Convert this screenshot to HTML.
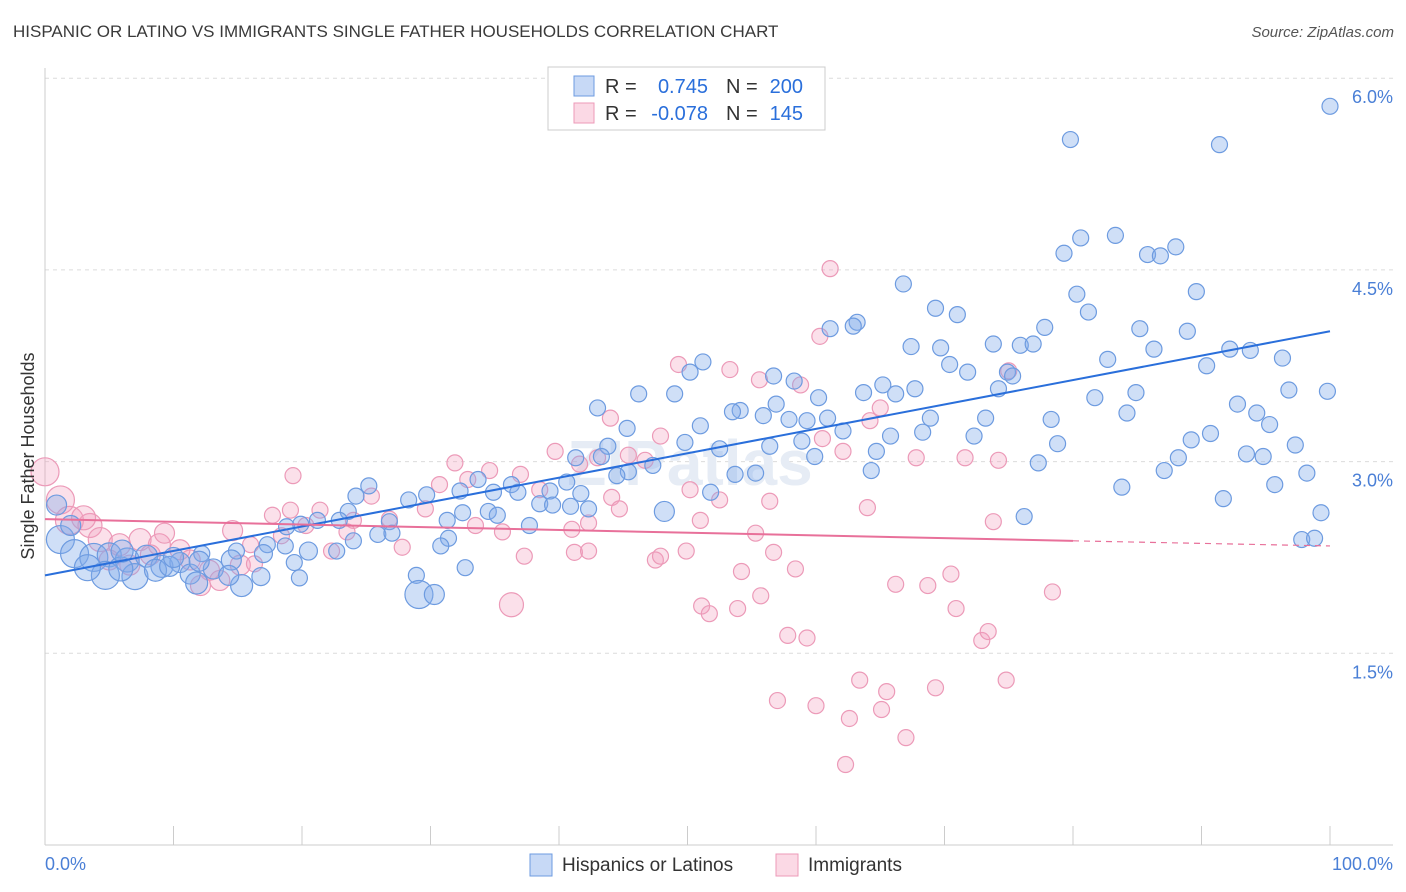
<!DOCTYPE html>
<html><head><meta charset="utf-8">
<style>
body{margin:0;background:#fff;font-family:"Liberation Sans",sans-serif;}
#wrap{position:relative;width:1406px;height:892px;overflow:hidden;}
.t{position:absolute;white-space:nowrap;}
</style></head>
<body>
<div id="wrap">
<div class="t" style="left:13px;top:22px;font-size:17px;color:#3a3a3a;">HISPANIC OR LATINO VS IMMIGRANTS SINGLE FATHER HOUSEHOLDS CORRELATION CHART</div>
<div class="t" style="right:12px;top:24px;font-size:15px;color:#555;font-style:italic;">Source: ZipAtlas.com</div>
<svg id="chart" width="1406" height="892" style="position:absolute;left:0;top:0"></svg>
</div>
<script>
const yTicks=[1.5,3.0,4.5,6.0];
const yTickLabels=["1.5%","3.0%","4.5%","6.0%"];
const xTickLabels=["0.0%","100.0%"];
const legendLabels=["Hispanics or Latinos","Immigrants"];
const blueR="0.745",blueN="200",pinkR="-0.078",pinkN="145";
const blueLine=[[0,2.11],[100,4.02]];
const pinkLine=[[0,2.55],[80,2.38],[100,2.34]];
const bluePts=[[100,5.78],[79.8,5.52],[91.4,5.48],[83.3,4.77],[80.6,4.75],[88,4.68],[79.3,4.63],[85.8,4.62],[86.8,4.61],[66.8,4.39],[80.3,4.31],[89.6,4.33],[69.3,4.2],[81.2,4.17],[71,4.15],[63.2,4.09],[61.1,4.04],[62.9,4.06],[77.8,4.05],[85.2,4.04],[88.9,4.02],[67.4,3.9],[73.8,3.92],[75.9,3.91],[76.9,3.92],[69.7,3.89],[86.3,3.88],[92.2,3.88],[93.8,3.87],[96.3,3.81],[82.7,3.8],[51.2,3.78],[70.4,3.76],[90.4,3.75],[50.2,3.7],[71.8,3.7],[74.9,3.7],[56.7,3.67],[75.3,3.67],[58.3,3.63],[65.2,3.6],[67.7,3.57],[74.2,3.57],[96.8,3.56],[99.8,3.55],[46.2,3.53],[49,3.53],[63.7,3.54],[66.2,3.53],[84.9,3.54],[60.2,3.5],[81.7,3.5],[56.9,3.45],[54.1,3.4],[92.8,3.45],[43,3.42],[84.2,3.38],[94.3,3.38],[55.9,3.36],[53.5,3.39],[59.3,3.32],[57.9,3.33],[60.9,3.34],[68.9,3.34],[78.3,3.33],[73.2,3.34],[95.3,3.29],[51,3.28],[45.3,3.26],[62.1,3.24],[68.3,3.23],[65.8,3.2],[72.3,3.2],[90.7,3.22],[89.2,3.17],[49.8,3.15],[43.8,3.12],[56.4,3.12],[58.9,3.16],[78.8,3.14],[97.3,3.13],[52.5,3.1],[64.7,3.08],[93.5,3.06],[94.8,3.04],[41.3,3.03],[43.3,3.04],[59.9,3.04],[88.2,3.03],[77.3,2.99],[47.3,2.97],[45.4,2.92],[64.3,2.93],[87.1,2.93],[98.2,2.91],[53.7,2.9],[55.3,2.91],[44.5,2.89],[40.6,2.84],[25.2,2.81],[33.7,2.86],[36.3,2.82],[83.8,2.8],[95.7,2.82],[51.8,2.76],[39.3,2.77],[41.7,2.75],[24.2,2.73],[29.7,2.74],[32.3,2.77],[34.9,2.76],[36.8,2.76],[28.3,2.7],[38.5,2.67],[39.5,2.66],[91.7,2.71],[40.9,2.65],[23.6,2.61],[48.2,2.61,10],[32.5,2.6],[34.5,2.61],[35.2,2.58],[42.3,2.63],[99.3,2.6],[76.2,2.57],[21.2,2.54],[31.3,2.54],[37.7,2.5],[26.8,2.53],[25.9,2.43],[22.9,2.54],[18.8,2.49],[19.9,2.51],[31.4,2.4],[97.8,2.39],[98.8,2.4],[17.3,2.35],[18.7,2.34],[14.9,2.3],[30.8,2.34],[22.7,2.3],[12.2,2.28],[1.2,2.39,14],[2.3,2.28,14],[3.8,2.25,14],[5,2.27,12],[6.4,2.23,12],[7.9,2.26,11],[9.1,2.18,11],[10.5,2.21,10],[4.7,2.11,14],[7,2.1,13],[8.6,2.15,11],[11.3,2.12,10],[13.1,2.16,10],[14.5,2.23,10],[16.8,2.1,9],[3.3,2.17,13],[5.9,2.16,12],[9.7,2.18,10],[19.4,2.21],[32.7,2.17],[28.9,2.11],[11.8,2.05,11],[15.3,2.03,11],[19.8,2.09],[29.1,1.96,14],[30.3,1.96,10],[14.3,2.11,10],[0.9,2.66,10],[2,2.5,10],[6,2.3,11],[12,2.22,10],[17,2.28,9],[20.5,2.3,9],[24,2.38],[27,2.44],[10,2.25,10]];
const pinkPts=[[0,2.92,14],[1.2,2.7,14],[1.9,2.54,14],[3.5,2.5,12],[4.3,2.39,12],[5.8,2.35,11],[7.4,2.39,11],[8.9,2.35,11],[10.5,2.31,10],[5,2.23,10],[6.6,2.19,10],[8.2,2.27,10],[11.3,2.23,10],[12.8,2.15,10],[13.6,2.07,10],[12.1,2.03,10],[15.2,2.19,10],[19.3,2.89],[17.7,2.58],[19.1,2.62],[21.4,2.62],[24,2.54],[25.4,2.73],[26.8,2.55],[29.6,2.63],[30.7,2.82],[31.9,2.99],[32.9,2.86],[34.6,2.93],[37,2.9],[38.5,2.78],[39.7,3.08],[41.6,2.98],[43,3.03],[44,3.34],[45.4,3.05],[46.7,3.01],[47.9,3.2],[49.3,3.76],[50.2,2.78],[53.3,3.72],[55.6,3.64],[58.8,3.6],[61.1,4.51],[60.3,3.98],[60.5,3.18],[62.1,3.08],[64.2,3.32],[65,3.42],[51,2.54],[52.5,2.7],[55.3,2.44],[56.4,2.69],[44.1,2.72],[44.7,2.63],[42.3,2.52],[41,2.47],[41.2,2.29],[42.3,2.3],[37.3,2.26],[36.3,1.88,12],[47.5,2.23],[47.9,2.26],[49.9,2.3],[54.2,2.14],[56.7,2.29],[58.4,2.16],[55.7,1.95],[53.9,1.85],[51.1,1.87],[51.7,1.81],[57.8,1.64],[59.3,1.62],[57,1.13],[60,1.09],[62.6,0.99],[62.3,0.63],[63.4,1.29],[65.1,1.06],[65.5,1.2],[67,0.84],[66.2,2.04],[68.7,2.03],[70.5,2.12],[70.9,1.85],[69.3,1.23],[72.9,1.6],[73.4,1.67],[74.8,1.29],[78.4,1.98],[73.8,2.53],[74.2,3.01],[71.6,3.03],[64,2.64],[75,3.71],[67.8,3.03],[22.3,2.3],[23.5,2.45],[27.8,2.33],[33.5,2.5],[35.6,2.45],[20.3,2.5],[18.4,2.42],[16.3,2.2],[14.6,2.46,10],[3,2.56,12],[9.3,2.44,10],[16,2.35]];
const svg=document.getElementById('chart');
const NS='http://www.w3.org/2000/svg';
const X=v=>45+v*12.85, Y=v=>845-v*127.8;
function mk(t,a,p){const e=document.createElementNS(NS,t);for(const k in a)e.setAttribute(k,a[k]);(p||svg).appendChild(e);return e;}
// grid
yTicks.forEach((v,i)=>{
 const g=mk('line',{x1:45,x2:1393,y1:Y(v),y2:Y(v),stroke:'#dcdcdc','stroke-dasharray':'4,4'});
 
 
 const t=mk('text',{x:1393,y:Y(v)+25,'text-anchor':'end','font-size':18,fill:'#4a7fd6'});
 
 
 t.textContent=yTickLabels[i];
});
const ax=mk('line',{x1:45,x2:45,y1:68,y2:845,stroke:'#ccc'});


const bx=mk('line',{x1:45,x2:1393,y1:845,y2:845,stroke:'#ccc'});


for(let i=0;i<=10;i++){const tk=mk('line',{x1:X(i*10),x2:X(i*10),y1:826,y2:845,stroke:'#ccc'});
 
 }
const wm=mk('text',{x:690,y:485,'text-anchor':'middle','font-size':64,'font-weight':'bold',fill:'#e6ecf5'});


wm.textContent='ZIPatlas';
function pts(arr,fill,stroke,name){arr.forEach(p=>{const c=mk('circle',{cx:X(p[0]),cy:Y(p[1]),r:p[2]||8,fill:fill,stroke:stroke,'stroke-width':1.2});
 
 });}
pts(pinkPts,'rgba(244,160,190,0.32)','#ec9ab8','immigrants-point');
pts(bluePts,'rgba(130,170,235,0.38)','#6d9be0','hispanic-point');
const bl=mk('line',{x1:X(blueLine[0][0]),y1:Y(blueLine[0][1]),x2:X(blueLine[1][0]),y2:Y(blueLine[1][1]),stroke:'#2a6fdb','stroke-width':2});


const pl=mk('line',{x1:X(pinkLine[0][0]),y1:Y(pinkLine[0][1]),x2:X(pinkLine[1][0]),y2:Y(pinkLine[1][1]),stroke:'#e8709a','stroke-width':2});


const pd=mk('line',{x1:X(pinkLine[1][0]),y1:Y(pinkLine[1][1]),x2:X(pinkLine[2][0]),y2:Y(pinkLine[2][1]),stroke:'#e8709a','stroke-width':1.2,'stroke-dasharray':'6,5'});


const yt=mk('text',{x:34,y:456,'text-anchor':'middle','font-size':18,fill:'#333',transform:'rotate(-90 34 456)'});


yt.textContent='Single Father Households';
const x0=mk('text',{x:45,y:870,'font-size':18,fill:'#4a7fd6'});


x0.textContent=xTickLabels[0];
const x1=mk('text',{x:1393,y:870,'text-anchor':'end','font-size':18,fill:'#4a7fd6'});


x1.textContent=xTickLabels[1];
// top legend
const lg=mk('g',{});


mk('rect',{x:548,y:67,width:277,height:63,fill:'#fff',stroke:'#ccc'},lg);
mk('rect',{x:574,y:76,width:20,height:20,fill:'rgba(130,170,235,0.45)',stroke:'#6d9be0'},lg);
mk('rect',{x:574,y:103,width:20,height:20,fill:'rgba(244,160,190,0.4)',stroke:'#ec9ab8'},lg);
function lt(x,y,s,c,a){const t=mk('text',{x:x,y:y,'font-size':20,fill:c,'text-anchor':a||'start'},lg);t.textContent=s;return t;}
lt(605,93,'R =','#333');lt(708,93,blueR,'#2a6fdb','end');lt(726,93,'N =','#333');lt(803,93,blueN,'#2a6fdb','end');
lt(605,120,'R =','#333');lt(708,120,pinkR,'#2a6fdb','end');lt(726,120,'N =','#333');lt(803,120,pinkN,'#2a6fdb','end');
// bottom legend
const bl2=mk('g',{});


mk('rect',{x:530,y:854,width:22,height:22,fill:'rgba(130,170,235,0.45)',stroke:'#6d9be0'},bl2);
mk('rect',{x:776,y:854,width:22,height:22,fill:'rgba(244,160,190,0.4)',stroke:'#ec9ab8'},bl2);
let t1=mk('text',{x:562,y:871,'font-size':19,fill:'#333'},bl2);t1.textContent=legendLabels[0];
let t2=mk('text',{x:808,y:871,'font-size':19,fill:'#333'},bl2);t2.textContent=legendLabels[1];
</script>
</body></html>
